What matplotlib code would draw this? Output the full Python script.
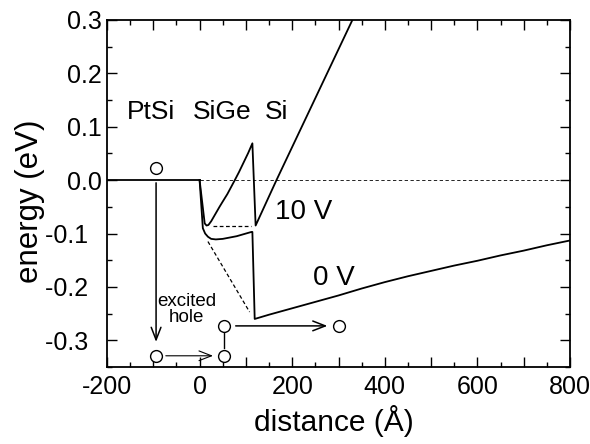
import matplotlib
matplotlib.use("Agg")
import matplotlib.pyplot as plt
from matplotlib.ticker import MultipleLocator, FuncFormatter

plt.rcParams['font.family'] = ['Liberation Sans', 'DejaVu Sans']

# PtSi Fermi level (flat)
ptsi_x = [-200, 0]
ptsi_y = [0.0, 0.0]

# valence band edge, 0 V bias
v0_x = [0, 7, 12, 18, 25, 35, 50, 80, 112, 114, 119, 150, 200, 250, 300, 350,
        400, 450, 500, 550, 600, 650, 700, 750, 800]
v0_y = [0.0, -0.09, -0.100, -0.106, -0.110, -0.111, -0.110, -0.105, -0.097,
        -0.097, -0.260, -0.252, -0.240, -0.228, -0.216, -0.203, -0.191, -0.180,
        -0.170, -0.160, -0.151, -0.141, -0.132, -0.122, -0.113]

# valence band edge, 10 V bias
v10_x = [0, 11, 15, 19, 25, 35, 43, 50, 60, 68, 76, 85, 95, 105, 114, 121, 166, 330]
v10_y = [0.0, -0.081, -0.085, -0.084, -0.077, -0.062, -0.05, -0.040, -0.026,
         -0.013, 0.0, 0.015, 0.033, 0.051, 0.069, -0.085, 0.0, 0.3]

# dashed guides
zero_x = [0, 800]
zero_y = [0.0, 0.0]
dash10_x = [28, 112]
dash10_y = [-0.085, -0.085]
dash0_x = [18, 108]
dash0_y = [-0.115, -0.247]

# hole positions (open circles)
hole_x = [-94, -95, 52, 52, 302]
hole_y = [0.022, -0.329, -0.329, -0.273, -0.273]

fig = plt.figure(figsize=(5.9, 4.44), dpi=100)
ax = fig.add_axes([107 / 590, 1 - 367 / 444, (570 - 107) / 590, (367 - 20) / 444])

ax.plot(ptsi_x, ptsi_y, color="black", lw=1.3)
ax.plot(v0_x, v0_y, color="black", lw=1.3)
ax.plot(v10_x, v10_y, color="black", lw=1.3)
ax.plot(zero_x, zero_y, color="black", lw=0.6, dashes=(4, 3))
ax.plot(dash10_x, dash10_y, color="black", lw=0.9, dashes=(3, 2))
ax.plot(dash0_x, dash0_y, color="black", lw=0.9, dashes=(3, 2))

ax.plot(hole_x, hole_y, "o", mfc="white", mec="black", ms=8.5, mew=1.0)

# hole trajectory arrows
arrow = dict(arrowstyle="->,head_length=0.9,head_width=0.35", color="black", lw=1.1,
             shrinkA=0, shrinkB=0)
ax.annotate("", xy=(-94, -0.303), xytext=(-94, -0.005), arrowprops=arrow)
ax.annotate("", xy=(29, -0.329), xytext=(-73, -0.329),
            arrowprops=dict(arrow, lw=0.8))
ax.annotate("", xy=(276, -0.273), xytext=(78, -0.273), arrowprops=arrow)
ax.plot([52, 52], [-0.315, -0.287], color="black", lw=1.0)

ax.text(-105, 0.128, "PtSi", fontsize=19, ha="center", va="center")
ax.text(48, 0.128, "SiGe", fontsize=19, ha="center", va="center")
ax.text(166, 0.128, "Si", fontsize=19, ha="center", va="center")
ax.text(225, -0.059, "10 V", fontsize=20, ha="center", va="center")
ax.text(290, -0.184, "0 V", fontsize=20, ha="center", va="center")
ax.text(-28, -0.242, "excited\nhole", fontsize=13.5, ha="center", va="center",
        linespacing=0.9)

ax.set_xlim(-200, 800)
ax.set_ylim(-0.35, 0.3)
ax.xaxis.set_major_locator(MultipleLocator(100))
ax.xaxis.set_minor_locator(MultipleLocator(50))
ax.xaxis.set_major_formatter(FuncFormatter(lambda v, p: f"{v:.0f}" if round(v) % 200 == 0 else ""))
ax.yaxis.set_major_locator(MultipleLocator(0.1))
ax.yaxis.set_minor_locator(MultipleLocator(0.05))


def ylab(v, p):
    # negative labels sit further left in the original
    if v < -1e-9:
        return f"{v:.1f}\u2007"
    return f"{abs(v):.1f}"


ax.yaxis.set_major_formatter(FuncFormatter(ylab))
ax.tick_params(which="both", direction="in", top=True, right=True, labelsize=18, width=1.0)
ax.tick_params(which="major", length=7)
ax.tick_params(axis="x", which="major", pad=6)
ax.tick_params(which="minor", length=3.5)
for s in ax.spines.values():
    s.set_linewidth(1.3)

ax.set_xlabel("distance (Å)", fontsize=21.5)
ax.set_ylabel("energy (eV)", fontsize=22.5)
ax.xaxis.set_label_coords(0.489, -0.11)
ax.yaxis.set_label_coords(-0.134, 0.477)

fig.savefig("out.png", dpi=100)
